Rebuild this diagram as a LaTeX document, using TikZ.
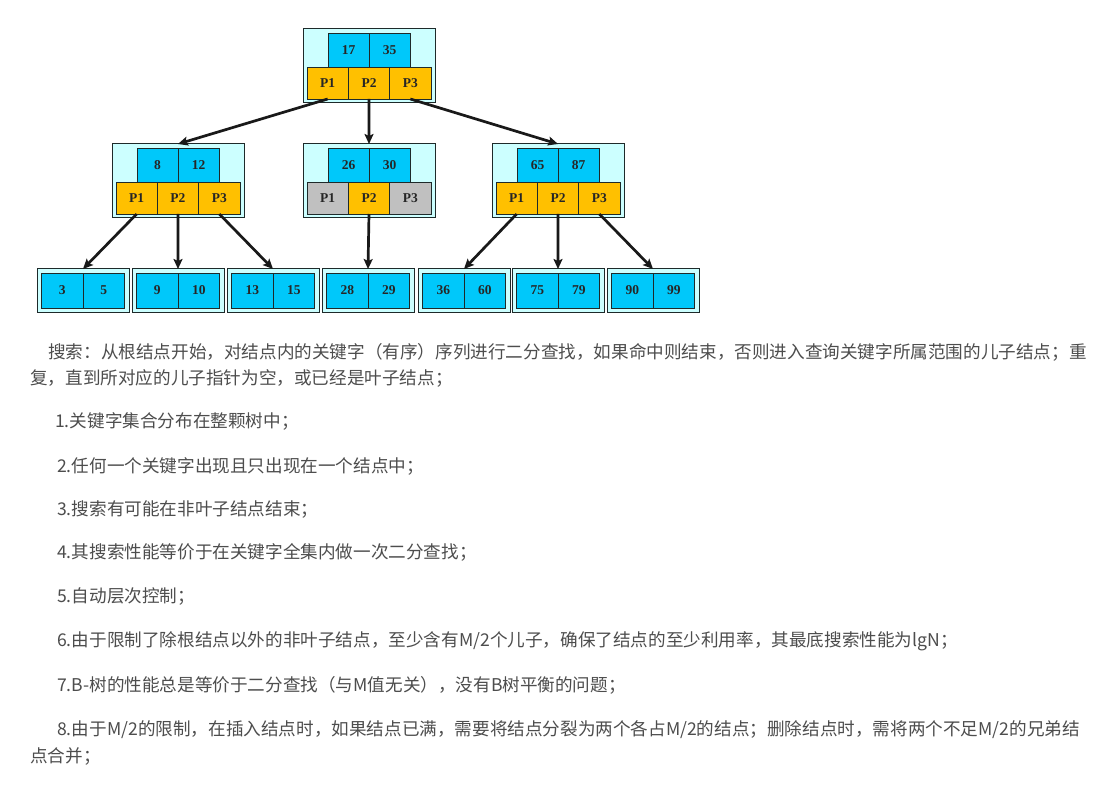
\documentclass[tikz,border=0pt]{standalone}
\usepackage{fontspec}
\usetikzlibrary{arrows.meta}
\newfontfamily\cjk{Noto Sans CJK SC}
\newfontfamily\numfont{Liberation Serif}
\definecolor{keyc}{HTML}{00C8FA}
\definecolor{pc}{HTML}{FFC000}
\definecolor{grayc}{HTML}{C0C0C0}
\definecolor{outc}{HTML}{CCFFFF}
\definecolor{bordc}{HTML}{1E2A2A}
\definecolor{txtc}{HTML}{4D4D4D}
\tikzset{
  outerbox/.style={draw=bordc,fill=outc,line width=1pt,inner sep=0pt,outer sep=0pt,anchor=north west},
  cellbox/.style={draw=bordc,line width=0.9pt,inner sep=0pt,outer sep=0pt,anchor=north west,
     font=\numfont\bfseries\fontsize{13.5}{13.5}\selectfont,text=black!85},
  keycell/.style={cellbox,fill=keyc,minimum width=41pt,minimum height=34pt},
  pcell/.style={cellbox,fill=pc,minimum width=41.33pt,minimum height=31.5pt},
  gcell/.style={pcell,fill=grayc},
  leafcell/.style={cellbox,fill=keyc,minimum width=41.5pt,minimum height=35pt},
  link/.style={line width=2.7pt,black!90,-{Stealth[length=10pt,width=9pt,inset=2pt]}},
  para/.style={anchor=west,inner sep=0pt,font=\cjk\fontsize{17.6}{17.6}\selectfont,text=txtc}
}
% internal node: name, center x, top y, key1, key2, style1, style2, style3
\newcommand{\bnode}[8]{%
  \node[outerbox,minimum width=132pt,minimum height=74pt] (#1) at (#2-66,#3) {};
  \node[keycell] (#1k1) at (#2-41,#3+4.5) {#4};
  \node[keycell] (#1k2) at (#2,#3+4.5) {#5};
  \node[#6] (#1p1) at (#2-62,#3+38.5) {P1};
  \node[#7] (#1p2) at (#2-20.67,#3+38.5) {P2};
  \node[#8] (#1p3) at (#2+20.67,#3+38.5) {P3};
}
% leaf: name, left x, key1, key2
\newcommand{\bleaf}[4]{%
  \node[outerbox,minimum width=92pt,minimum height=43pt] (#1) at (#2,269) {};
  \node[leafcell] (#1k1) at (#2+4.5,273) {#3};
  \node[leafcell] (#1k2) at (#2+46,273) {#4};
}
\begin{document}
\begin{tikzpicture}[x=1pt,y=-1pt]
\fill[white] (0,0) rectangle (1113,786);
\useasboundingbox (0,0) rectangle (1113,786);
% tree nodes
\bnode{root}{369}{29}{17}{35}{pcell}{pcell}{pcell}
\bnode{nl}{178}{144}{8}{12}{pcell}{pcell}{pcell}
\bnode{nm}{369}{144}{26}{30}{gcell}{pcell}{gcell}
\bnode{nr}{558}{144}{65}{87}{pcell}{pcell}{pcell}
\bleaf{la}{37}{3}{5}
\bleaf{lb}{132}{9}{10}
\bleaf{lc}{227}{13}{15}
\bleaf{ld}{322}{28}{29}
\bleaf{le}{418}{36}{60}
\bleaf{lf}{512}{75}{79}
\bleaf{lg}{607}{90}{99}
% connectors
\draw[link] (rootp1.south) -- (nl.north);
\draw[link] (rootp2.south) -- (nm.north);
\draw[link] (rootp3.south) -- (nr.north);
\draw[link] (nlp1.south) -- (la.north);
\draw[link] (nlp2.south) -- (lb.north);
\draw[link] (nlp3.south) -- (lc.north);
\draw[link] (nmp2.south) -- (ld.north);
\draw[link] (nrp1.south) -- (le.north);
\draw[link] (nrp2.south) -- (lf.north);
\draw[link] (nrp3.south) -- (lg.north);
% text
\node[para] (t1) at (48,352) {搜索：从根结点开始，对结点内的关键字（有序）序列进行二分查找，如果命中则结束，否则进入查询关键字所属范围的儿子结点；重};
\node[para] (t2) at (30,378) {复，直到所对应的儿子指针为空，或已经是叶子结点；};
\node[para] (i1) at (55,421) {1.关键字集合分布在整颗树中；};
\node[para] (i2) at (57,466) {2.任何一个关键字出现且只出现在一个结点中；};
\node[para] (i3) at (57,510) {3.搜索有可能在非叶子结点结束；};
\node[para] (i4) at (57,552) {4.其搜索性能等价于在关键字全集内做一次二分查找；};
\node[para] (i5) at (57,597) {5.自动层次控制；};
\node[para] (i6) at (57,641) {6.由于限制了除根结点以外的非叶子结点，至少含有M/2个儿子，确保了结点的至少利用率，其最底搜索性能为lgN；};
\node[para] (i7) at (57,685) {7.B-树的性能总是等价于二分查找（与M值无关），没有B树平衡的问题；};
\node[para] (i8) at (57,730) {8.由于M/2的限制，在插入结点时，如果结点已满，需要将结点分裂为两个各占M/2的结点；删除结点时，需将两个不足M/2的兄弟结};
\node[para] (i8b) at (30,756) {点合并；};
\end{tikzpicture}
\end{document}
